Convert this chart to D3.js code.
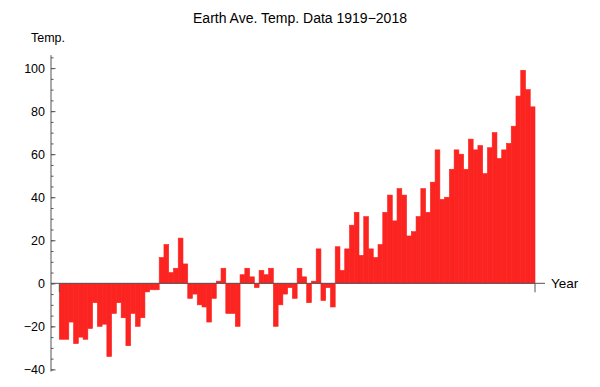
<!DOCTYPE html>
<html>
<head>
<meta charset="utf-8">
<style>
body {
    margin: 0;
    background: #fff;
}
text {
    font-family: "Liberation Sans", Arial, Helvetica, sans-serif;
}
</style>
</head>
<body>
<script src="https://d3js.org/d3.v7.min.js"></script>
<script>
// temperature anomaly per year, 1919..2018
var firstYear = 1919;
var temps = [
    -26, -26, -18, -28, -25, -26, -21,  -9, -20, -19,   // 1919-1928
    -34, -14,  -9, -16, -29, -14, -20, -16,  -4,  -3,   // 1929-1938
     -3,  12,  18,   5,   7,  21,   9,  -7,  -5, -10,   // 1939-1948
    -11, -18,  -7,   1,   7, -14, -14, -20,   4,   7,   // 1949-1958
      3,  -2,   6,   4,   7, -20, -10,  -5,  -2,  -7,   // 1959-1968
      7,   3,  -9,   1,  16,  -8,  -2, -11,  17,   6,   // 1969-1978
     16,  27,  33,  13,  31,  16,  12,  18,  33,  41,   // 1979-1988
     29,  44,  41,  22,  24,  31,  44,  33,  47,  62,   // 1989-1998
     39,  40,  53,  62,  60,  53,  67,  62,  64,  51,   // 1999-2008
     63,  70,  58,  62,  65,  73,  87,  99,  90,  82    // 2009-2018
];
var years = temps.map(function(d, i) { return firstYear + i; });
var majorTicks = [-40, -20, 0, 20, 40, 60, 80, 100];
var minorTicks = d3.range(-40, 106, 5);

var title = "Earth Ave. Temp. Data 1919\u22122018";
var yLabel = "Temp.";
var xLabel = "Year";

var width = 600, height = 387;
var axisX = 51;
var axisGray = "#555";

var svg = d3.select("body").append("svg")
    .attr("width", width)
    .attr("height", height);

var x = d3.scaleBand()
    .domain(years)
    .range([59.3, 535])
    .padding(0);

var y = d3.scaleLinear()
    .domain([-40, 100])
    .range([369.4, 68.1]);

// bars (stroke in fill colour hides the seams between neighbours)
svg.append("g").selectAll("rect")
    .data(temps)
    .enter().append("rect")
    .attr("x", function(d, i) { return x(years[i]); })
    .attr("y", function(d) { return y(Math.max(0, d)); })
    .attr("width", x.bandwidth())
    .attr("height", function(d) { return Math.abs(y(d) - y(0)); })
    .attr("fill", "#fb2420")
    .attr("stroke", "#fb2420")
    .attr("stroke-width", 0.6);

// y axis: minor ticks
svg.append("g")
    .attr("transform", "translate(" + axisX + ",0)")
    .call(d3.axisRight(y).tickValues(minorTicks).tickSize(2.5).tickFormat(""))
    .call(function(g) {
        g.select(".domain").remove();
        g.selectAll("line").attr("stroke", axisGray);
    });

// y axis: major ticks + labels
var yAxis = svg.append("g")
    .attr("transform", "translate(" + axisX + ",0)")
    .call(d3.axisLeft(y).tickValues(majorTicks).tickSize(0).tickPadding(6))
    .call(function(g) {
        g.select(".domain").remove();
        g.selectAll("text")
            .attr("font-size", 12.5)
            .attr("fill", "#000")
            .attr("font-family", "'Liberation Sans', Arial, sans-serif");
    });
yAxis.selectAll(".tick").append("line")
    .attr("x1", 0).attr("x2", 4.5)
    .attr("stroke", axisGray);

svg.append("line")
    .attr("x1", axisX).attr("x2", axisX)
    .attr("y1", y(106)).attr("y2", y(-41))
    .attr("stroke", axisGray)
    .attr("stroke-width", 1);

// x axis at zero
svg.append("line")
    .attr("x1", axisX).attr("x2", 545)
    .attr("y1", y(0)).attr("y2", y(0))
    .attr("stroke", axisGray)
    .attr("stroke-width", 1);

// end ticks of the bar range
[x(years[0]), x(years[years.length - 1]) + x.bandwidth()].forEach(function(px) {
    svg.append("line")
        .attr("x1", px).attr("x2", px)
        .attr("y1", y(0)).attr("y2", y(0) + 9)
        .attr("stroke", axisGray)
        .attr("stroke-width", 1);
});

svg.append("text")
    .attr("x", 551)
    .attr("y", y(0) + 5)
    .attr("font-size", 13.5)
    .text(xLabel);

svg.append("text")
    .attr("x", 31)
    .attr("y", 42)
    .attr("font-size", 12.5)
    .text(yLabel);

svg.append("text")
    .attr("x", 300)
    .attr("y", 23)
    .attr("text-anchor", "middle")
    .attr("font-size", 14)
    .text(title);
</script>
</body>
</html>
